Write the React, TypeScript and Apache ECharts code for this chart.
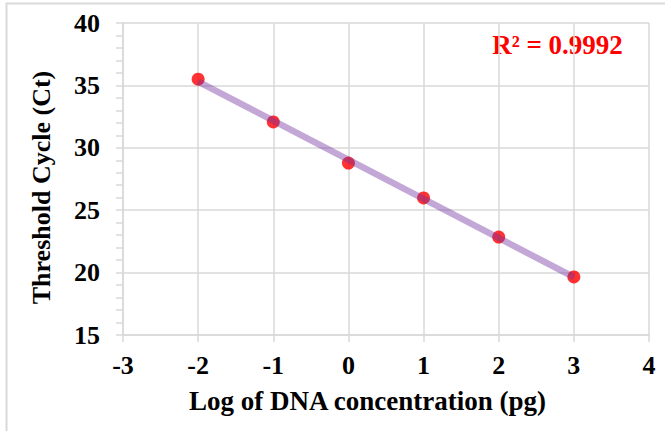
import React, { useEffect, useRef } from "react";
import * as echarts from "echarts";

const logConc = [-2, -1, 0, 1, 2, 3];
const ctValues = [35.5, 32.07, 28.78, 25.98, 22.85, 19.65];
const xTicks = { min: -3, max: 4, interval: 1 };
const yTicks = { min: 15, max: 40, interval: 5 };
const r2Label = "R² = 0.9992";
const xTitle = "Log of DNA concentration (pg)";
const yTitle = "Threshold Cycle (Ct)";

function linearFit(xs: number[], ys: number[]) {
  const n = xs.length;
  const mx = xs.reduce((a, b) => a + b, 0) / n;
  const my = ys.reduce((a, b) => a + b, 0) / n;
  let sxy = 0;
  let sxx = 0;
  for (let i = 0; i < n; i++) {
    sxy += (xs[i] - mx) * (ys[i] - my);
    sxx += (xs[i] - mx) * (xs[i] - mx);
  }
  const slope = sxy / sxx;
  return { slope, intercept: my - slope * mx };
}

const FONT = '"Liberation Serif", "Times New Roman", serif';

export default function App() {
  const ref = useRef<HTMLDivElement>(null);
  useEffect(() => {
    document.body.style.margin = "0";
    const chart = echarts.init(ref.current!, null, { renderer: "svg" });
    const fit = linearFit(logConc, ctValues);
    const x0 = Math.min(...logConc);
    const x1 = Math.max(...logConc);
    const trend = [
      [x0, fit.intercept + fit.slope * x0],
      [x1, fit.intercept + fit.slope * x1],
    ];
    const grid = "#D9D9D9";
    chart.setOption({
      animation: false,
      backgroundColor: "#fff",
      grid: { left: 123, top: 23, right: 16, bottom: 96 },
      xAxis: {
        type: "value",
        min: xTicks.min,
        max: xTicks.max,
        interval: xTicks.interval,
        axisLine: { show: true, onZero: false, lineStyle: { color: grid, width: 1.5 } },
        axisTick: { show: true, inside: false, length: 7, lineStyle: { color: grid, width: 1.5 } },
        splitLine: { show: true, lineStyle: { color: grid, width: 1.5 } },
        axisLabel: { color: "#000", fontFamily: FONT, fontWeight: "bold", fontSize: 26, margin: 17 },
      },
      yAxis: {
        type: "value",
        min: yTicks.min,
        max: yTicks.max,
        interval: yTicks.interval,
        axisLine: { show: true, onZero: false, lineStyle: { color: grid, width: 1.5 } },
        axisTick: { show: true, inside: false, length: 7, lineStyle: { color: grid, width: 1.5 } },
        minorTick: { show: true, splitNumber: 5, length: 7, lineStyle: { color: grid, width: 1.5 } },
        splitLine: { show: true, lineStyle: { color: grid, width: 1.5 } },
        axisLabel: { color: "#000", fontFamily: FONT, fontWeight: "bold", fontSize: 26, margin: 23 },
      },
      series: [
        {
          type: "scatter",
          data: logConc.map((x, i) => [x, ctValues[i]]),
          symbol: "circle",
          symbolSize: 13,
          itemStyle: { color: "#FF0000" },
          z: 2,
        },
        {
          type: "line",
          data: trend,
          showSymbol: false,
          lineStyle: { color: "rgba(112,48,160,0.42)", width: 6.5 },
          z: 3,
        },
      ],
      graphic: [
        {
          type: "rect",
          shape: { x: 6.5, y: 3.5, width: 700, height: 500 },
          style: { fill: "none", stroke: "#D9D9D9", lineWidth: 2 },
          silent: true,
        },
        {
          type: "text",
          x: 367.5,
          y: 401,
          style: {
            text: xTitle,
            font: `bold 27px ${FONT}`,
            fill: "#000",
            textAlign: "center",
            textVerticalAlign: "middle",
          },
        },
        {
          type: "text",
          x: 41,
          y: 187.5,
          rotation: Math.PI / 2,
          style: {
            text: yTitle,
            font: `bold 26px ${FONT}`,
            fill: "#000",
            textAlign: "center",
            textVerticalAlign: "middle",
          },
        },
        {
          type: "text",
          x: 557.5,
          y: 45,
          style: {
            text: r2Label,
            font: `bold 27px ${FONT}`,
            fill: "#FF0000",
            textAlign: "center",
            textVerticalAlign: "middle",
          },
        },
      ],
    });
    return () => chart.dispose();
  }, []);
  return <div ref={ref} style={{ width: 665, height: 431 }} />;
}
